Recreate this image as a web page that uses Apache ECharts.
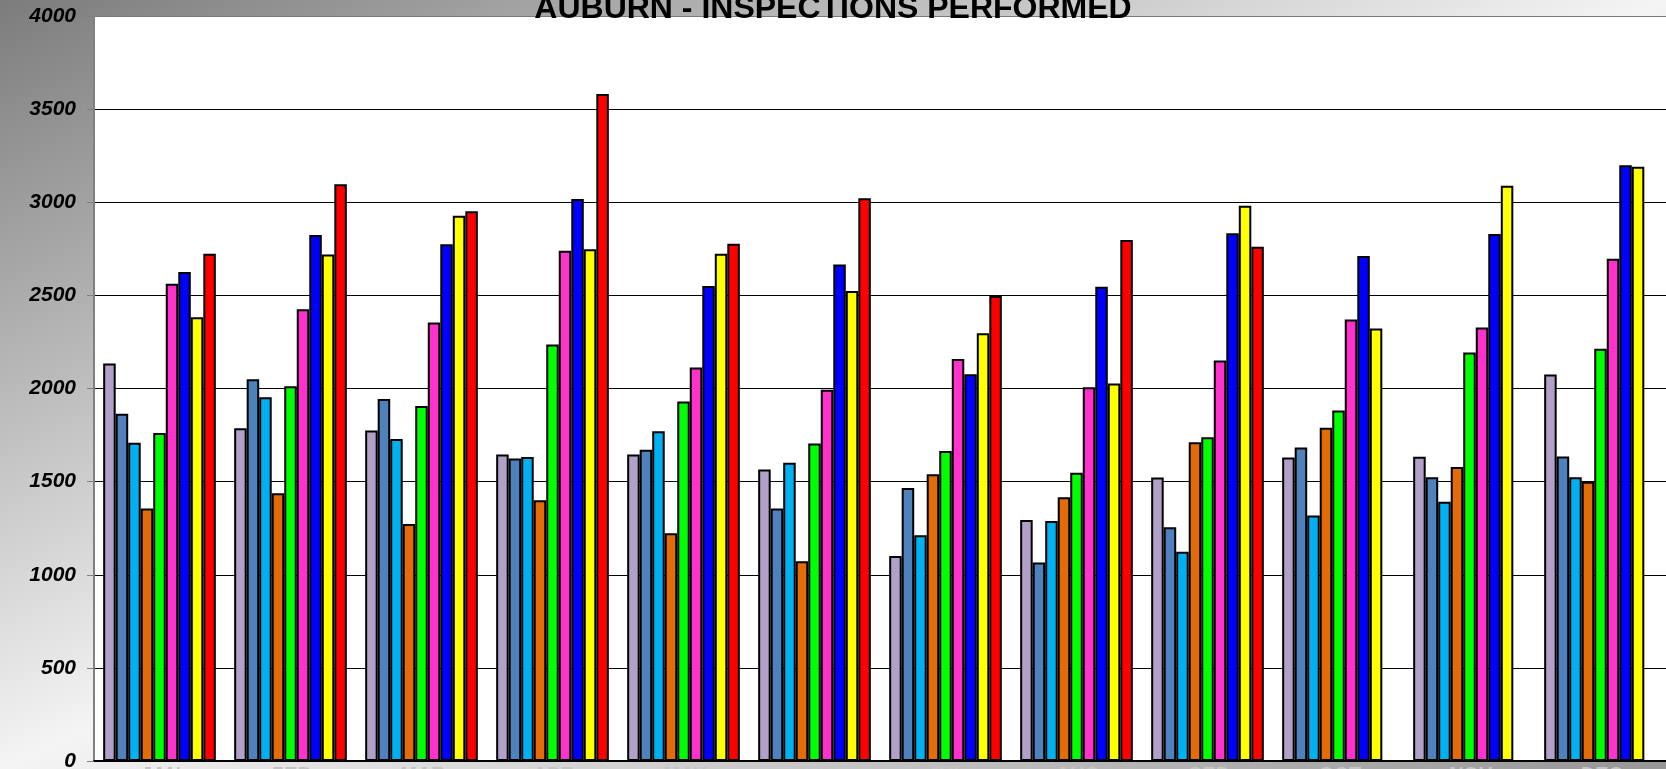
<!DOCTYPE html>
<html>
<head>
<meta charset="utf-8">
<title>Auburn - Inspections Performed</title>
<script src="https://cdn.jsdelivr.net/npm/echarts/dist/echarts.min.js"></script>
<style>
  html, body { margin: 0; padding: 0; overflow: hidden; }
  #chart { width: 1666px; height: 769px; }
</style>
</head>
<body>
<div id="chart"></div>
<script>
// months along the bottom (labels are mostly cut off in the original)
const months = ['JAN', 'FEB', 'MAR', 'APR', 'MAY', 'JUN', 'JUL', 'AUG', 'SEP', 'OCT', 'NOV', 'DEC'];
const seriesNames = ['2000', '2001', '2002', '2003', '2004', '2005', '2006', '2007', '2008'];
const barColors = ['#b1a0c7', '#4f81bd', '#00b0f0', '#e36c09', '#00ff00', '#ff33cc', '#0000ff', '#ffff00', '#ff0000'];
const yTicks = { min: 0, max: 4000, step: 500 };

// one array per year
const y2000 = [2134, 1787, 1774, 1645, 1645, 1565, 1101, 1294, 1522, 1630, 1633, 2075];
const y2001 = [1864, 2050, 1943, 1624, 1671, 1356, 1466, 1066, 1255, 1683, 1524, 1635];
const y2002 = [1709, 1953, 1729, 1632, 1771, 1602, 1212, 1289, 1123, 1318, 1392, 1524];
const y2003 = [1356, 1438, 1273, 1400, 1223, 1073, 1540, 1416, 1712, 1789, 1579, 1500];
const y2004 = [1761, 2012, 1906, 2236, 1930, 1705, 1665, 1548, 1738, 1882, 2193, 2213];
const y2005 = [2562, 2426, 2355, 2739, 2113, 1993, 2159, 2007, 2150, 2371, 2328, 2696];
const y2006 = [2625, 2824, 2775, 3017, 2550, 2666, 2077, 2546, 2834, 2712, 2829, 3198];
const y2007 = [2383, 2720, 2927, 2747, 2723, 2524, 2296, 2027, 2981, 2322, 3088, 3190];
const y2008 = [2723, 3097, 2952, 3581, 2777, 3021, 2496, 2797, 2761, '-', '-', '-'];

const allYears = [y2000, y2001, y2002, y2003, y2004, y2005, y2006, y2007, y2008];

let chartDom = document.getElementById('chart');
let myChart = echarts.init(chartDom);

let series = [];
for (let i = 0; i < allYears.length; i++) {
  series.push({
    name: seriesNames[i],
    type: 'bar',
    data: allYears[i],
    barGap: '0%',
    barCategoryGap: '14%',
    itemStyle: {
      color: barColors[i],
      borderColor: '#000',
      borderWidth: 2
    }
  });
}

// split line colours: black, top one grey like the plot border
let splitColors = [];
for (let v = yTicks.min; v <= yTicks.max; v += yTicks.step) {
  splitColors.push(v === yTicks.max ? '#7a7a7a' : '#000');
}

let option = {
  animation: false,
  backgroundColor: {
    type: 'linear',
    x: 0, y: 0, x2: 585, y2: 1268,
    global: true,
    colorStops: [
      { offset: 0, color: '#7c7c7c' },
      { offset: 0.5, color: '#f4f4f4' },
      { offset: 1, color: '#969696' }
    ]
  },
  title: {
    text: 'AUBURN - INSPECTIONS PERFORMED',
    left: 'center',
    top: -12,
    textStyle: {
      fontFamily: 'Liberation Sans',
      fontWeight: 'bold',
      fontSize: 32,
      color: '#000'
    }
  },
  grid: {
    left: 94,
    top: 16,
    width: 1572,
    height: 745,
    outerBoundsMode: 'none',
    containLabel: false,
    show: true,
    backgroundColor: '#fff',
    borderWidth: 0
  },
  xAxis: {
    type: 'category',
    data: months,
    axisLine: { lineStyle: { color: '#000', width: 2 } },
    axisTick: { length: 12, lineStyle: { color: '#8a8a8a', width: 2 } },
    axisLabel: {
      margin: 4,
      fontFamily: 'Liberation Sans',
      fontWeight: 'bold',
      fontStyle: 'italic',
      fontSize: 20,
      color: '#c4c4c4'
    }
  },
  yAxis: {
    type: 'value',
    min: yTicks.min,
    max: yTicks.max,
    interval: yTicks.step,
    axisLine: { show: true, lineStyle: { color: '#808080', width: 2 } },
    axisTick: { show: true, length: 7, lineStyle: { color: '#808080', width: 1 } },
    axisLabel: {
      margin: 18,
      formatter: function (v) { return String(v); },
      fontFamily: 'Liberation Sans',
      fontWeight: 'bold',
      fontStyle: 'italic',
      fontSize: 21,
      color: '#000'
    },
    splitLine: { show: true, lineStyle: { color: splitColors, width: 1 } }
  },
  series: series
};

option && myChart.setOption(option);
</script>
</body>
</html>
